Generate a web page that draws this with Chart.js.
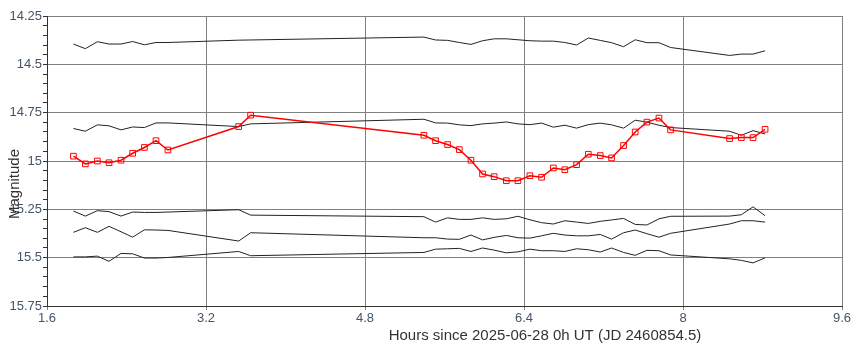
<!DOCTYPE html>
<html>
<head>
<meta charset="utf-8">
<script src="https://cdn.jsdelivr.net/npm/chart.js@4"></script>
<style>
  html, body { margin: 0; padding: 0; background: #fff; }
  canvas { display: block; }
</style>
</head>
<body>
<canvas id="lc" width="860" height="351"></canvas>
<script>
// observation times, hours since 2025-06-28 0h UT
const hours = [1.866, 1.986, 2.107, 2.224, 2.345, 2.462, 2.58, 2.697, 2.817, 3.529, 3.649,
  5.393, 5.51, 5.631, 5.749, 5.866, 5.983, 6.1, 6.222, 6.339, 6.459, 6.577, 6.695, 6.811,
  6.929, 7.047, 7.167, 7.281, 7.402, 7.519, 7.637, 7.758, 7.875, 8.469, 8.587, 8.705, 8.826];

// target star
const target = [14.975, 15.015, 15.0, 15.009, 14.996, 14.96, 14.93, 14.895, 14.943, 14.822, 14.763,
  14.867, 14.895, 14.915, 14.941, 14.996, 15.067, 15.081, 15.102, 15.102, 15.076, 15.084, 15.036, 15.045,
  15.019, 14.965, 14.972, 14.984, 14.92, 14.85, 14.799, 14.778, 14.839, 14.884, 14.879, 14.879, 14.836];

// comparison / check stars
const comp1 = [14.395, 14.419, 14.383, 14.395, 14.395, 14.382, 14.399, 14.387, 14.387, 14.375, 14.374,
  14.359, 14.374, 14.376, 14.387, 14.397, 14.378, 14.368, 14.368, 14.373, 14.378, 14.380, 14.380, 14.387,
  14.400, 14.364, 14.376, 14.388, 14.409, 14.373, 14.388, 14.388, 14.413, 14.454, 14.447, 14.447, 14.43];
const comp2 = [14.832, 14.846, 14.813, 14.818, 14.839, 14.824, 14.827, 14.803, 14.803, 14.822, 14.808,
  14.784, 14.803, 14.804, 14.813, 14.817, 14.808, 14.804, 14.798, 14.808, 14.812, 14.804, 14.825, 14.815,
  14.830, 14.812, 14.804, 14.813, 14.830, 14.789, 14.799, 14.815, 14.827, 14.846, 14.867, 14.843, 14.860];
const comp3 = [15.259, 15.285, 15.257, 15.262, 15.285, 15.264, 15.266, 15.266, 15.264, 15.252, 15.280,
  15.288, 15.316, 15.294, 15.302, 15.302, 15.294, 15.302, 15.299, 15.286, 15.304, 15.319, 15.326, 15.309,
  15.316, 15.323, 15.312, 15.305, 15.297, 15.328, 15.331, 15.299, 15.286, 15.285, 15.278, 15.237, 15.283];
const comp4 = [15.369, 15.345, 15.369, 15.338, 15.366, 15.394, 15.356, 15.357, 15.359, 15.414, 15.371,
  15.397, 15.397, 15.404, 15.405, 15.383, 15.408, 15.395, 15.385, 15.397, 15.399, 15.387, 15.374, 15.383,
  15.387, 15.387, 15.380, 15.404, 15.371, 15.357, 15.376, 15.394, 15.374, 15.326, 15.309, 15.309, 15.316];
const comp5 = [15.496, 15.496, 15.492, 15.519, 15.478, 15.480, 15.502, 15.502, 15.499, 15.468, 15.490,
  15.473, 15.456, 15.454, 15.452, 15.468, 15.450, 15.461, 15.475, 15.470, 15.456, 15.464, 15.464, 15.468,
  15.454, 15.459, 15.471, 15.450, 15.473, 15.488, 15.462, 15.464, 15.486, 15.506, 15.514, 15.527, 15.501];

const X_TITLE = 'Hours since 2025-06-28 0h UT (JD 2460854.5)';
const Y_TITLE = 'Magnitude';

const pts = arr => arr.map((m, i) => ({ x: hours[i], y: m }));

function compSet(arr) {
  return {
    data: pts(arr),
    borderColor: '#222',
    borderWidth: 1,
    tension: 0,
    pointRadius: 0,
    fill: false,
    order: 2
  };
}

// axis titles drawn by hand, the reference has them off-centre
const titles = {
  id: 'titles',
  afterDraw(chart) {
    const ctx = chart.ctx;
    ctx.save();
    ctx.fillStyle = '#333';
    ctx.font = '15px "Liberation Sans", Arial, sans-serif';
    ctx.textAlign = 'center';
    ctx.textBaseline = 'middle';
    ctx.fillText(X_TITLE, 545, 336);
    ctx.translate(15, 184);
    ctx.rotate(-Math.PI / 2);
    ctx.fillText(Y_TITLE, 0, 0);
    ctx.restore();
  }
};

const isMajor = v => Math.round(v * 100) % 25 === 0;

new Chart(document.getElementById('lc'), {
  type: 'line',
  data: {
    datasets: [
      {
        data: pts(target),
        borderColor: '#ff0000',
        borderWidth: 1.5,
        tension: 0,
        pointStyle: 'rect',
        pointRadius: 4,
        pointBorderWidth: 1,
        pointBorderColor: '#ff0000',
        pointBackgroundColor: 'rgba(255,255,255,0)',
        fill: false,
        order: 1
      },
      compSet(comp1),
      compSet(comp2),
      compSet(comp3),
      compSet(comp4),
      compSet(comp5)
    ]
  },
  options: {
    responsive: false,
    animation: false,
    devicePixelRatio: 1,
    layout: { padding: { top: 16, right: 18, left: 0, bottom: 0 } },
    plugins: { legend: { display: false }, tooltip: { enabled: false } },
    scales: {
      x: {
        type: 'linear',
        min: 1.6,
        max: 9.6,
        ticks: {
          stepSize: 1.6,
          color: '#44546a',
          font: { size: 13, family: '"Liberation Sans", Arial, sans-serif' },
          padding: 1,
          maxRotation: 0,
          callback: v => String(Math.round(v * 10) / 10)
        },
        grid: { color: '#808080', lineWidth: 1, tickLength: 4, tickColor: '#808080' },
        border: { color: '#333', width: 1 },
        afterFit(scale) { scale.height = 45; }
      },
      y: {
        type: 'linear',
        reverse: true,
        min: 14.25,
        max: 15.75,
        ticks: {
          stepSize: 0.05,
          autoSkip: false,
          color: '#44546a',
          font: { size: 13, family: '"Liberation Sans", Arial, sans-serif' },
          padding: 1,
          callback: v => isMajor(v) ? String(Math.round(v * 100) / 100) : ''
        },
        grid: {
          lineWidth: 1,
          tickLength: 4,
          color: c => isMajor(c.tick.value) ? '#808080' : 'rgba(0,0,0,0)',
          tickColor: '#333'
        },
        border: { color: '#333', width: 1 },
        afterFit(scale) { scale.width = 47; }
      }
    }
  },
  plugins: [titles]
});
</script>
</body>
</html>
